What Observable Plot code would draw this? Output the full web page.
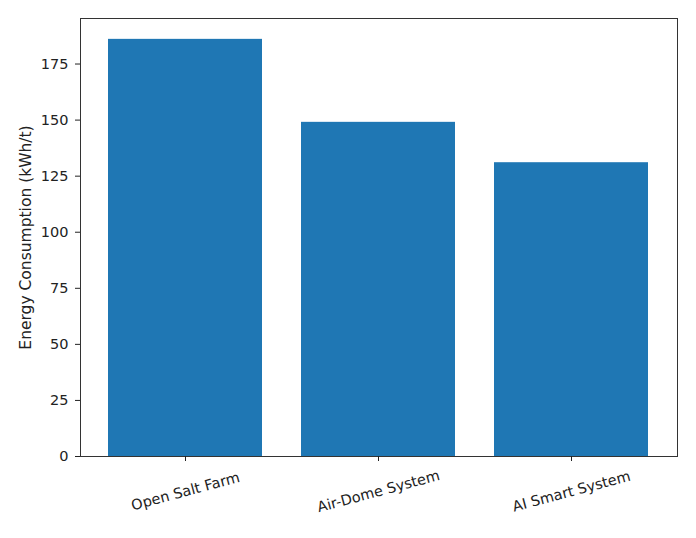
<!DOCTYPE html>
<html>
<head>
<meta charset="utf-8">
<script src="https://cdn.jsdelivr.net/npm/d3@7"></script>
<script src="https://cdn.jsdelivr.net/npm/@observablehq/plot@0.6"></script>
<style>
  html, body { margin: 0; padding: 0; background: #fff; }
  #chart svg { display: block; }
</style>
</head>
<body>
<div id="chart"></div>
<script>
const categories = ["Open Salt Farm", "Air-Dome System", "AI Smart System"];
const values = [186, 149, 131];
const yTicks = [0, 25, 50, 75, 100, 125, 150, 175];
const yLabel = "Energy Consumption (kWh/t)";

const data = categories.map((c, i) => ({category: c, value: values[i]}));

const chart = Plot.plot({
  width: 696,
  height: 538,
  marginLeft: 80,
  marginRight: 19,
  marginTop: 18,
  marginBottom: 82,
  style: {fontFamily: "DejaVu Sans", fontSize: "14.5px", color: "#222", background: "#fff"},
  x: {domain: categories, paddingInner: 0.2, paddingOuter: 0.14},
  y: {domain: [0, 195.3]},
  marks: [
    Plot.barY(data, {x: "category", y: "value", fill: "#1f77b4"}),
    Plot.frame({stroke: "#333", strokeWidth: 1}),
    Plot.axisY({
      ticks: yTicks, tickSize: 5, tickPadding: 7,
      label: null, fontSize: 14.5
    }),
    Plot.axisX({tickSize: 5, tickFormat: () => "", label: null}),
    Plot.text([yLabel], {
      frameAnchor: "left", text: d => d, dx: -54.5, rotate: -90,
      textAnchor: "middle", lineAnchor: "middle", fontSize: 15.5, fill: "#222"
    }),
    Plot.text(data, {
      x: "category", frameAnchor: "bottom", text: "category",
      dy: 35, rotate: -15, textAnchor: "middle", lineAnchor: "middle",
      fontSize: 14.5, fill: "#222"
    })
  ]
});
document.getElementById("chart").appendChild(chart);
</script>
</body>
</html>
